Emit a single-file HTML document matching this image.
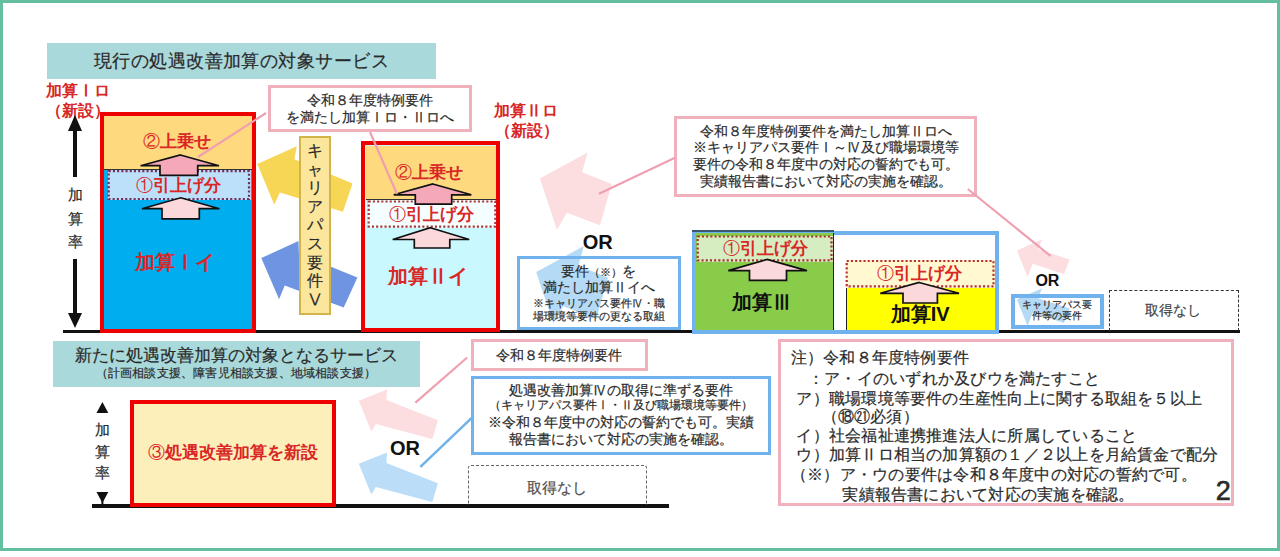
<!DOCTYPE html>
<html lang="ja"><head><meta charset="utf-8"><style>
html,body{margin:0;padding:0;background:#fff;}
body{width:1280px;height:557px;position:relative;overflow:hidden;font-family:"Liberation Sans",sans-serif;}
.r{position:absolute;}
.t{position:absolute;white-space:nowrap;line-height:1;-webkit-text-stroke:0.2px currentColor;}
.b{-webkit-text-stroke:0;}
.c{font-weight:normal;}
</style></head><body>
<div class="r" style="left:0.0px;top:0.0px;width:1280.0px;height:551.0px;border:3px solid #63BF9E;box-sizing:border-box;background:#fff"></div>
<svg class="r" style="left:0;top:0" width="1280" height="557"><polygon points="257.3,164.1 296.8,146.3 294.4,159.2 352.6,183.5 342.9,211.7 279.9,192.4 274.2,204.5" fill="#F7D655"/><polygon points="261.3,258.1 298.5,241 298.9,253.7 357.4,277.5 343.7,307.4 284.7,285.6 279.1,299.3" fill="#6F94E2"/><polygon points="539.9,178.6 587.5,152.6 582.1,172.3 611.7,184 600,225.3 566.8,212.7 556.9,229.8" fill="#FCDDE0"/><polygon points="1016.9,250.6 1042.0,239.3 1038.2,249.3 1069.7,259.4 1064.0,273.9 1032.6,263.8 1027.6,277.0" fill="#FCDDE0"/><polygon points="358.8,400.7 387,389.4 386.4,400.1 437.9,420.2 432.3,439 375.8,424 371.4,431.5" fill="#FCDDE0"/><polygon points="358.8,463.7 387,452.4 386.4,463.1 437.9,483.2 432.3,502 375.8,487 371.4,494.5" fill="#BCDDF8"/></svg>
<div class="r" style="left:47.0px;top:43.0px;width:389.0px;height:36.0px;background:#AAD9DB"></div>
<div class="t" style="left:241.5px;top:61.0px;font-size:18.00px;color:#2a2a2a;font-weight:normal;transform:translate(-50%,-50%);letter-spacing:0.45px">現行の処遇改善加算の対象サービス</div>
<div class="t b" style="left:78.0px;top:90.5px;font-size:16.00px;color:#D92626;font-weight:bold;transform:translate(-50%,-50%);">加算Ⅰロ</div>
<div class="t b" style="left:78.0px;top:110.5px;font-size:16.00px;color:#D92626;font-weight:bold;transform:translate(-50%,-50%);">（新設）</div>
<div class="t b" style="left:526.0px;top:111.2px;font-size:16.00px;color:#D92626;font-weight:bold;transform:translate(-50%,-50%);">加算Ⅱロ</div>
<div class="t b" style="left:526.6px;top:130.6px;font-size:16.00px;color:#D92626;font-weight:bold;transform:translate(-50%,-50%);">（新設）</div>
<div class="r" style="left:517.0px;top:256.0px;width:163.0px;height:73.5px;background:#fff"></div>
<div class="r" style="left:1011.0px;top:293.0px;width:93.0px;height:35.5px;background:#fff"></div>
<svg class="r" style="left:0;top:0" width="1280" height="557"><polygon points="536.2,272.1 583.8,246.1 578.4,265.8 608,277.5 596.3,318.8 563.1,306.2 553.2,323.3" fill="#B5DAF6"/><polygon points="1016.9,299.6 1042.0,288.3 1038.2,298.3 1069.7,308.4 1064.0,322.9 1032.6,312.8 1027.6,326.0" fill="#B5DAF6"/></svg>
<div class="r" style="left:517.0px;top:255.8px;width:163.5px;height:74.2px;border:3.5px solid #70B2EE;box-sizing:border-box"></div>
<div class="r" style="left:1010.8px;top:293.5px;width:93.2px;height:35.5px;border:4px solid #70B2EE;box-sizing:border-box"></div>
<div class="r" style="left:63.0px;top:329.5px;width:1176.5px;height:3.3px;background:#111"></div>
<div class="r" style="left:99.7px;top:111.5px;width:156.3px;height:221.0px;border:4.4px solid #EE0000;box-sizing:border-box;background:#00AEEF"></div>
<div class="r" style="left:104.0px;top:116.0px;width:148.0px;height:53.5px;background:#FFD97D;border-bottom:1.5px solid #333;box-sizing:border-box"></div>
<div class="r" style="left:107.5px;top:170.0px;width:143.0px;height:30.0px;background:#BDE0FA"></div>
<svg class="r" style="left:0;top:0" width="1280" height="557"><rect x="108.7" y="171.2" width="140.3" height="27.8" fill="none" stroke="#74305C" stroke-width="2.2" stroke-dasharray="2.1 2.1"/></svg>
<div class="r" style="left:361.3px;top:141.3px;width:139.1px;height:191.2px;border:4.5px solid #EE0000;box-sizing:border-box;background:#C9F9FE"></div>
<div class="r" style="left:365.5px;top:146.0px;width:130.5px;height:54.0px;background:#FFD97D;border-bottom:1.5px solid #333;box-sizing:border-box"></div>
<div class="r" style="left:367.5px;top:200.2px;width:128.5px;height:27.8px;background:#F5FEFF"></div>
<svg class="r" style="left:0;top:0" width="1280" height="557"><rect x="368.7" y="201.5" width="126.6" height="25.1" fill="none" stroke="#A83838" stroke-width="2.2" stroke-dasharray="2.1 2.1"/></svg>
<div class="r" style="left:691.8px;top:230.6px;width:306.8px;height:103.0px;border:4px solid #70B2EE;box-sizing:border-box;background:#fff"></div>
<div class="r" style="left:695.2px;top:233.0px;width:138.8px;height:97.0px;background:#88CC4A;border-right:1.5px solid #222;box-sizing:border-box"></div>
<div class="r" style="left:691.8px;top:230.2px;width:142.2px;height:1.6px;background:#3A5670"></div>
<div class="r" style="left:696.5px;top:235.5px;width:136.0px;height:26.0px;background:#D5EDC0"></div>
<svg class="r" style="left:0;top:0" width="1280" height="557"><rect x="697.7" y="236.5" width="133.8" height="23.9" fill="none" stroke="#A83030" stroke-width="2.2" stroke-dasharray="2.1 2.1"/></svg>
<div class="r" style="left:846.0px;top:286.8px;width:149.0px;height:43.2px;background:#FFFF00;border-left:1.5px solid #222;box-sizing:border-box"></div>
<div class="r" style="left:846.0px;top:260.0px;width:148.5px;height:27.5px;background:#FFF8D0"></div>
<svg class="r" style="left:0;top:0" width="1280" height="557"><rect x="846.7" y="261" width="146.8" height="25.4" fill="none" stroke="#B83030" stroke-width="2.2" stroke-dasharray="2.1 2.1"/></svg>
<div class="r" style="left:267.5px;top:84.5px;width:204.0px;height:47.0px;border:3px solid #F0B0BC;box-sizing:border-box;background:#fff"></div>
<div class="t" style="left:369.5px;top:99.7px;font-size:14.00px;color:#2a2a2a;font-weight:normal;transform:translate(-50%,-50%);">令和８年度特例要件</div>
<div class="t" style="left:369.5px;top:116.5px;font-size:14.00px;color:#2a2a2a;font-weight:normal;transform:translate(-50%,-50%);">を満たし加算Ⅰロ・Ⅱロへ</div>
<div class="r" style="left:674.0px;top:116.3px;width:302.5px;height:81.2px;border:3.3px solid #F0B0BC;box-sizing:border-box;background:#fff"></div>
<div class="t" style="left:825.5px;top:131.3px;font-size:14.00px;color:#2a2a2a;font-weight:normal;transform:translate(-50%,-50%);">令和８年度特例要件を満たし加算Ⅱロへ</div>
<div class="t" style="left:825.5px;top:147.3px;font-size:14.00px;color:#2a2a2a;font-weight:normal;transform:translate(-50%,-50%);">※キャリアパス要件Ⅰ～Ⅳ及び職場環境等</div>
<div class="t" style="left:825.5px;top:164.0px;font-size:14.00px;color:#2a2a2a;font-weight:normal;transform:translate(-50%,-50%);">要件の令和８年度中の対応の誓約でも可。</div>
<div class="t" style="left:825.5px;top:180.6px;font-size:14.00px;color:#2a2a2a;font-weight:normal;transform:translate(-50%,-50%);">実績報告書において対応の実施を確認。</div>
<div class="r" style="left:299.0px;top:135.5px;width:32.0px;height:179.5px;background:#FCE69C;border:2px solid #D2B54A;box-sizing:border-box"></div>
<div class="t" style="left:299px;top:142px;width:32px;font-size:16px;line-height:18.6px;text-align:center;color:#2a2a2a">キ<br>ャ<br>リ<br>ア<br>パ<br>ス<br>要<br>件<br>Ⅴ</div>
<div class="r" style="left:1109.4px;top:290.0px;width:129.2px;height:41.0px;border:1.5px dashed #333;border-bottom:none;box-sizing:border-box"></div>
<div class="r" style="left:53.0px;top:340.6px;width:367.0px;height:46.0px;background:#AAD9DB"></div>
<div class="t" style="left:236.0px;top:355.3px;font-size:17.00px;color:#2a2a2a;font-weight:normal;transform:translate(-50%,-50%);">新たに処遇改善加算の対象となるサービス</div>
<div class="t" style="left:236.0px;top:373.0px;font-size:12.00px;color:#2a2a2a;font-weight:normal;transform:translate(-50%,-50%);letter-spacing:0.2px">（計画相談支援、障害児相談支援、地域相談支援）</div>
<div class="r" style="left:92.0px;top:504.0px;width:577.0px;height:3.5px;background:#111"></div>
<div class="r" style="left:129.8px;top:399.8px;width:206.2px;height:107.2px;border:4.3px solid #EE0000;box-sizing:border-box;background:#FCEFB9"></div>
<div class="t b" style="left:232.6px;top:451.7px;font-size:17.00px;color:#D92626;font-weight:bold;transform:translate(-50%,-50%);"><span class="c">③</span>処遇改善加算を新設</div>
<div class="r" style="left:470.6px;top:338.8px;width:177.1px;height:32.0px;border:3.8px solid #F0B0BC;box-sizing:border-box;background:#fff"></div>
<div class="t" style="left:559.0px;top:355.0px;font-size:14.00px;color:#2a2a2a;font-weight:normal;transform:translate(-50%,-50%);">令和８年度特例要件</div>
<div class="r" style="left:471.3px;top:376.4px;width:300.1px;height:78.2px;border:3.8px solid #70B2EE;box-sizing:border-box;background:#fff"></div>
<div class="t" style="left:621.4px;top:390.2px;font-size:14.00px;color:#2a2a2a;font-weight:normal;transform:translate(-50%,-50%);">処遇改善加算Ⅳの取得に準ずる要件</div>
<div class="t" style="left:621.4px;top:405.0px;font-size:12.00px;color:#2a2a2a;font-weight:normal;transform:translate(-50%,-50%);">（キャリアパス要件Ⅰ・Ⅱ及び職場環境等要件）</div>
<div class="t" style="left:621.4px;top:422.1px;font-size:14.00px;color:#2a2a2a;font-weight:normal;transform:translate(-50%,-50%);">※令和８年度中の対応の誓約でも可。実績</div>
<div class="t" style="left:621.4px;top:439.3px;font-size:14.00px;color:#2a2a2a;font-weight:normal;transform:translate(-50%,-50%);">報告書において対応の実施を確認。</div>
<div class="r" style="left:467.7px;top:464.5px;width:179.6px;height:40.0px;border:1.5px dashed #666;border-bottom:none;border-radius:3px 3px 0 0;box-sizing:border-box"></div>
<div class="t" style="left:557.2px;top:486.8px;font-size:15.00px;color:#505050;font-weight:normal;transform:translate(-50%,-50%);">取得なし</div>
<div class="r" style="left:778.4px;top:339.2px;width:455.6px;height:167.0px;border:3.6px solid #F0B0BC;box-sizing:border-box;background:#fff"></div>
<div class="t" style="left:790.6px;top:358.4px;font-size:16.00px;color:#2a2a2a;font-weight:normal;transform:translate(0,-50%);letter-spacing:0.23px">注）令和８年度特例要件</div>
<div class="t" style="left:808.0px;top:378.7px;font-size:16.00px;color:#2a2a2a;font-weight:normal;transform:translate(0,-50%);letter-spacing:0.23px">：ア・イのいずれか及びウを満たすこと</div>
<div class="t" style="left:796.4px;top:398.9px;font-size:16.00px;color:#2a2a2a;font-weight:normal;transform:translate(0,-50%);letter-spacing:0.23px">ア）職場環境等要件の生産性向上に関する取組を５以上</div>
<div class="t" style="left:821.5px;top:416.9px;font-size:16.00px;color:#2a2a2a;font-weight:normal;transform:translate(0,-50%);letter-spacing:0.23px">（⑱㉑必須）</div>
<div class="t" style="left:796.4px;top:436.1px;font-size:16.00px;color:#2a2a2a;font-weight:normal;transform:translate(0,-50%);letter-spacing:0.23px">イ）社会福祉連携推進法人に所属していること</div>
<div class="t" style="left:796.4px;top:455.2px;font-size:16.00px;color:#2a2a2a;font-weight:normal;transform:translate(0,-50%);letter-spacing:0.23px">ウ）加算Ⅱロ相当の加算額の１／２以上を月給賃金で配分</div>
<div class="t" style="left:791.0px;top:475.1px;font-size:16.00px;color:#2a2a2a;font-weight:normal;transform:translate(0,-50%);letter-spacing:0.23px">（※）ア・ウの要件は令和８年度中の対応の誓約で可。</div>
<div class="t" style="left:842.3px;top:494.5px;font-size:16.00px;color:#2a2a2a;font-weight:normal;transform:translate(0,-50%);letter-spacing:0.23px">実績報告書において対応の実施を確認。</div>
<div class="t" style="left:1223.3px;top:491.0px;font-size:27.00px;color:#2a2a2a;font-weight:normal;transform:translate(-50%,-50%);-webkit-text-stroke:0.6px currentColor">2</div>
<svg class="r" style="left:0;top:0" width="1280" height="557"><polygon points="180.4,155.0 219.0,165.7 197.7,165.7 197.7,175.4 160.0,175.4 160.0,165.7 140.6,165.7" fill="#F5A9B8" stroke="#111" stroke-width="1.7" stroke-linejoin="miter"/><polygon points="180.7,197.8 219.4,208.7 199.3,208.7 199.3,218.8 162.0,218.8 162.0,208.7 142.0,208.7" fill="#FBD9DA" stroke="#111" stroke-width="1.7" stroke-linejoin="miter"/><polygon points="432.8,184.0 471.3,194.8 451.7,194.8 451.7,204.2 415.3,204.2 415.3,194.8 393.8,194.8" fill="#F5A9B8" stroke="#111" stroke-width="1.7" stroke-linejoin="miter"/><polygon points="430.4,227.7 469.2,239.5 449.8,239.5 449.8,248.0 414.3,248.0 414.3,239.5 392.7,239.5" fill="#FBD9DA" stroke="#111" stroke-width="1.7" stroke-linejoin="miter"/><polygon points="767.1,259.4 807.0,270.6 786.5,270.6 786.5,280.3 749.5,280.3 749.5,270.6 728.3,270.6" fill="#FBD9DA" stroke="#111" stroke-width="1.7" stroke-linejoin="miter"/><polygon points="919.1,282.5 959.0,293.3 937.4,293.3 937.4,303.0 903.0,303.0 903.0,293.3 880.3,293.3" fill="#FBD9DA" stroke="#111" stroke-width="1.7" stroke-linejoin="miter"/><line x1="266" y1="113" x2="198" y2="157" stroke="#EFA0B0" stroke-width="2.2"/><line x1="370" y1="132" x2="397" y2="194" stroke="#EFA0B0" stroke-width="2.2"/><line x1="675" y1="157.8" x2="599" y2="193.8" stroke="#EFA0B0" stroke-width="2.2"/><line x1="967.8" y1="189" x2="1050.6" y2="256" stroke="#EFA0B0" stroke-width="2.2"/><line x1="467.2" y1="357.5" x2="415.4" y2="402.7" stroke="#EFA0B0" stroke-width="2.2"/><line x1="472" y1="417.7" x2="420.4" y2="466.8" stroke="#6FB3EA" stroke-width="2.5"/><polygon points="75,115 68,131 82,131" fill="#111"/><rect x="73" y="130" width="4" height="47" fill="#111"/><rect x="73" y="259" width="4" height="56" fill="#111"/><polygon points="75,328 68,313 82,313" fill="#111"/></svg>
<div class="t" style="left:75.0px;top:194.0px;font-size:15.00px;color:#2a2a2a;font-weight:normal;transform:translate(-50%,-50%);">加</div>
<div class="t" style="left:75.0px;top:218.0px;font-size:15.00px;color:#2a2a2a;font-weight:normal;transform:translate(-50%,-50%);">算</div>
<div class="t" style="left:75.0px;top:241.0px;font-size:15.00px;color:#2a2a2a;font-weight:normal;transform:translate(-50%,-50%);">率</div>
<div class="t b" style="left:176.5px;top:140.9px;font-size:17.00px;color:#D92626;font-weight:bold;transform:translate(-50%,-50%);"><span class="c">②</span>上乗せ</div>
<div class="t b" style="left:178.8px;top:185.0px;font-size:17.00px;color:#D92626;font-weight:bold;transform:translate(-50%,-50%);"><span class="c">①</span>引上げ分</div>
<div class="t b" style="left:175.0px;top:262.0px;font-size:20.00px;color:#D92626;font-weight:bold;transform:translate(-50%,-50%);">加算Ⅰイ</div>
<div class="t b" style="left:429.4px;top:171.6px;font-size:17.00px;color:#D92626;font-weight:bold;transform:translate(-50%,-50%);"><span class="c">②</span>上乗せ</div>
<div class="t b" style="left:431.5px;top:213.7px;font-size:17.00px;color:#D92626;font-weight:bold;transform:translate(-50%,-50%);"><span class="c">①</span>引上げ分</div>
<div class="t b" style="left:428.3px;top:276.3px;font-size:20.00px;color:#D92626;font-weight:bold;transform:translate(-50%,-50%);">加算Ⅱイ</div>
<div class="t b" style="left:765.0px;top:248.0px;font-size:17.00px;color:#D92626;font-weight:bold;transform:translate(-50%,-50%);"><span class="c">①</span>引上げ分</div>
<div class="t b" style="left:761.7px;top:301.9px;font-size:20.00px;color:#111;font-weight:bold;transform:translate(-50%,-50%);">加算Ⅲ</div>
<div class="t b" style="left:919.6px;top:272.8px;font-size:17.00px;color:#D92626;font-weight:bold;transform:translate(-50%,-50%);"><span class="c">①</span>引上げ分</div>
<div class="t b" style="left:920.2px;top:313.7px;font-size:20.00px;color:#111;font-weight:bold;transform:translate(-50%,-50%);">加算IV</div>
<div class="t b" style="left:597.8px;top:242.0px;font-size:20.00px;color:#111;font-weight:bold;transform:translate(-50%,-50%);">OR</div>
<div class="t b" style="left:1047.4px;top:281.0px;font-size:16.00px;color:#111;font-weight:bold;transform:translate(-50%,-50%);">OR</div>
<div class="t b" style="left:404.9px;top:448.3px;font-size:20.00px;color:#111;font-weight:bold;transform:translate(-50%,-50%);">OR</div>
<div class="t" style="left:598.5px;top:271.4px;font-size:14.00px;color:#2a2a2a;font-weight:normal;transform:translate(-50%,-50%);">要件<span style="font-size:11px">（※）</span>を</div>
<div class="t" style="left:598.5px;top:287.4px;font-size:14.00px;color:#2a2a2a;font-weight:normal;transform:translate(-50%,-50%);">満たし加算Ⅱイへ</div>
<div class="t" style="left:598.5px;top:302.6px;font-size:11.00px;color:#2a2a2a;font-weight:normal;transform:translate(-50%,-50%);">※キャリアパス要件Ⅳ・職</div>
<div class="t" style="left:598.5px;top:316.0px;font-size:11.00px;color:#2a2a2a;font-weight:normal;transform:translate(-50%,-50%);">場環境等要件の更なる取組</div>
<div class="t" style="left:1057.0px;top:304.9px;font-size:9.50px;color:#2a2a2a;font-weight:normal;transform:translate(-50%,-50%);">キャリアパス要</div>
<div class="t" style="left:1057.0px;top:316.3px;font-size:9.50px;color:#2a2a2a;font-weight:normal;transform:translate(-50%,-50%);">件等の要件</div>
<div class="t" style="left:1173.3px;top:310.2px;font-size:14.00px;color:#444;font-weight:normal;transform:translate(-50%,-50%);">取得なし</div>
<svg class="r" style="left:0;top:0" width="1280" height="557"><polygon points="102.4,402 96.5,413 108.3,413" fill="#111"/><polygon points="102.4,503 96.5,492 108.3,492" fill="#111"/><rect x="101.4" y="500" width="2" height="5" fill="#111"/></svg>
<div class="t" style="left:102.4px;top:429.3px;font-size:15.00px;color:#2a2a2a;font-weight:normal;transform:translate(-50%,-50%);">加</div>
<div class="t" style="left:102.4px;top:450.6px;font-size:15.00px;color:#2a2a2a;font-weight:normal;transform:translate(-50%,-50%);">算</div>
<div class="t" style="left:102.4px;top:471.9px;font-size:15.00px;color:#2a2a2a;font-weight:normal;transform:translate(-50%,-50%);">率</div>
</body></html>
